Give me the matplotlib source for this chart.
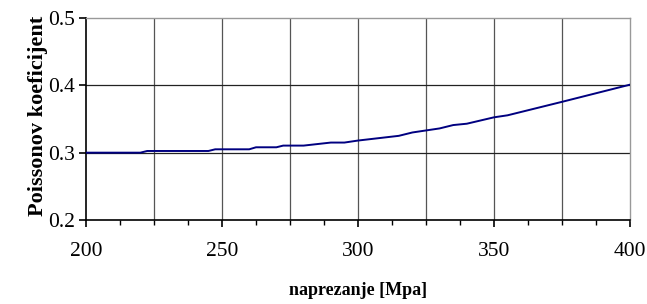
import matplotlib
matplotlib.use('Agg')
import matplotlib.pyplot as plt
from matplotlib.ticker import MultipleLocator

# stress [MPa] vs Poisson ratio
naprezanje = [200, 220, 222.5, 245, 247.5, 260, 262.5, 270, 272.5, 280, 290, 295,
              300, 315, 320, 330, 335, 340, 350, 355, 375, 400]
poisson = [0.300, 0.300, 0.3025, 0.3025, 0.305, 0.305, 0.308, 0.308, 0.3105, 0.3105,
           0.315, 0.315, 0.318, 0.325, 0.330, 0.336, 0.341, 0.343, 0.3525, 0.3555,
           0.3755, 0.401]

plt.rcParams['font.family'] = ['Liberation Serif', 'DejaVu Serif']

fig = plt.figure(figsize=(6.47, 3.04), dpi=100)
ax = fig.add_axes([86 / 647, 1 - 220 / 304, 544 / 647, 202 / 304])

ax.plot(naprezanje, poisson, color='#000080', linewidth=1.4, zorder=3)

ax.set_xlim(200, 400)
ax.set_ylim(0.2, 0.5)
ax.xaxis.set_major_locator(MultipleLocator(50))
ax.xaxis.set_minor_locator(MultipleLocator(12.5))
ax.yaxis.set_major_locator(MultipleLocator(0.1))

# grid: vertical every 25, horizontal every 0.1
for xv in range(225, 400, 25):
    ax.axvline(xv, color='#555555', linewidth=0.9, zorder=1)
for yv in (0.3, 0.4):
    ax.axhline(yv, color='#222222', linewidth=0.9, zorder=1)

for s in ('top', 'right'):
    ax.spines[s].set_color('#999999')
    ax.spines[s].set_linewidth(1.0)
for s in ('left', 'bottom'):
    ax.spines[s].set_color('black')
    ax.spines[s].set_linewidth(1.2)

ax.tick_params(axis='x', which='major', direction='out', length=5, width=1.2,
               labelsize=15.5, pad=11)
ax.tick_params(axis='x', which='minor', direction='out', length=3.6, width=1.0)
ax.tick_params(axis='y', which='major', direction='out', length=5, width=1.2,
               labelsize=15.5, pad=3)
ax.yaxis.set_major_formatter(plt.FuncFormatter(lambda v, p: f'{v:.1f}'))

ax.set_xlabel('naprezanje [Mpa]', fontsize=13, fontweight='bold')
ax.xaxis.set_label_coords(0.5, -0.305)
ax.set_ylabel('Poissonov koeficijent', fontsize=16, fontweight='bold')
ax.yaxis.set_label_coords(-0.07, 0.515)

fig.savefig('out.png', dpi=100)
